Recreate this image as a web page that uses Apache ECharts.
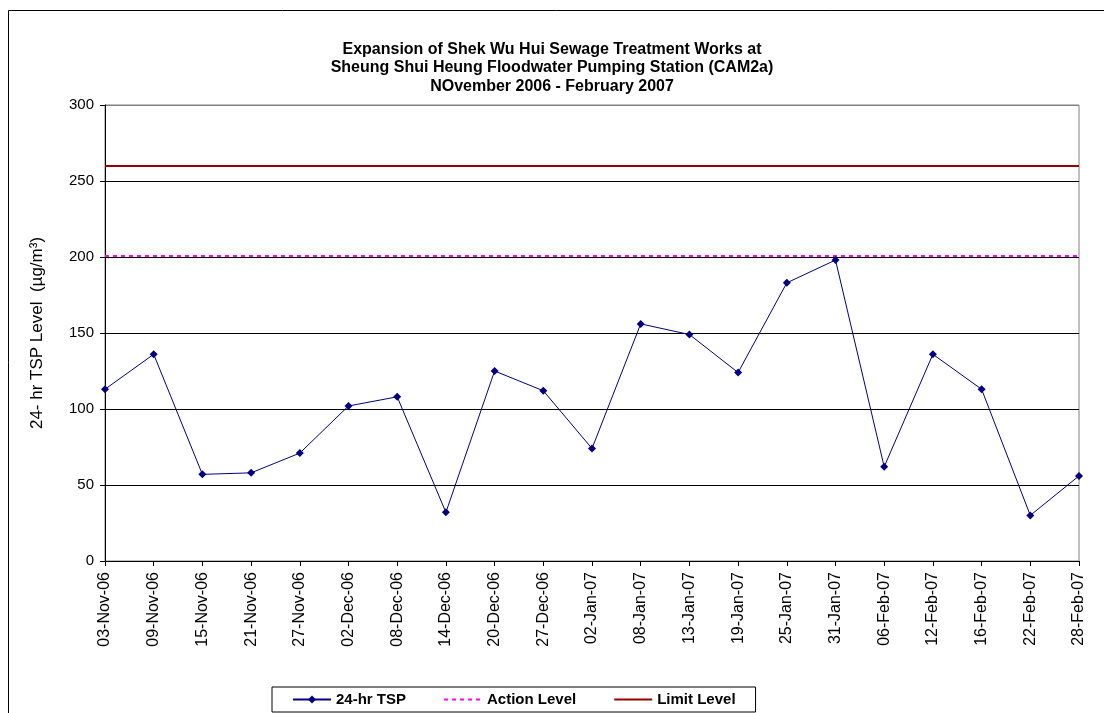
<!DOCTYPE html>
<html>
<head>
<meta charset="utf-8">
<script src="https://cdn.jsdelivr.net/npm/echarts@6/dist/echarts.min.js"></script>
<style>html,body{margin:0;padding:0;background:#fff}#c{width:1104px;height:713px}</style>
</head>
<body>
<div id="c"></div>
<script>
const categories = ['03-Nov-06','09-Nov-06','15-Nov-06','21-Nov-06','27-Nov-06','02-Dec-06','08-Dec-06','14-Dec-06','20-Dec-06','27-Dec-06','02-Jan-07','08-Jan-07','13-Jan-07','19-Jan-07','25-Jan-07','31-Jan-07','06-Feb-07','12-Feb-07','16-Feb-07','22-Feb-07','28-Feb-07'];
const tspValues = [113,136,57,58,71,102,108,32,125,112,74,156,149,124,183,198,62,136,113,30,56];
const actionLevel = 201;
const limitLevel = 260;
const titleLines = ['Expansion of Shek Wu Hui Sewage Treatment Works at','Sheung Shui Heung Floodwater Pumping Station (CAM2a)','NOvember 2006 - February 2007'];
const yTicks = {min: 0, max: 300, interval: 50};

const font = 'Arial, "Liberation Sans", sans-serif';
const chart = echarts.init(document.getElementById('c'), null, {renderer: 'canvas'});
chart.setOption({
  backgroundColor: '#fff',
  animation: false,
  graphic: [{
    type: 'rect', silent: true, z: -1,
    shape: {x: 8.5, y: 10.5, width: 1200, height: 800},
    style: {fill: 'none', stroke: '#000', lineWidth: 1}
  }],
  title: {
    text: titleLines.join('\n'),
    left: 'center',
    top: 35,
    textStyle: {fontFamily: font, fontSize: 16, fontWeight: 'bold', color: '#000', lineHeight: 18.5}
  },
  legend: {
    left: 272, top: 687,
    padding: [5, 20, 5, 20],
    borderColor: '#000', borderWidth: 1,
    itemWidth: 38, itemHeight: 10, itemGap: 37,
    textStyle: {fontFamily: font, fontSize: 15, fontWeight: 'bold', color: '#000'},
    data: [
      {name: '24-hr TSP'},
      {name: 'Action Level', itemStyle: {opacity: 0}},
      {name: 'Limit Level', itemStyle: {opacity: 0}}
    ]
  },
  grid: {left: 105, right: 25, top: 105, bottom: 152, show: true, borderColor: '#808080', borderWidth: 1, backgroundColor: 'transparent'},
  xAxis: {
    type: 'category',
    data: categories,
    boundaryGap: false,
    axisLine: {lineStyle: {color: '#000', width: 1}},
    axisTick: {show: true, length: 5, lineStyle: {color: '#000'}, interval: 0},
    axisLabel: {rotate: 90, interval: 0, margin: 11, fontFamily: font, fontSize: 16, color: '#000'},
    splitLine: {show: false}
  },
  yAxis: {
    type: 'value',
    min: yTicks.min, max: yTicks.max, interval: yTicks.interval,
    name: '24- hr TSP Level  (\u00b5g/m\u00b3)',
    nameLocation: 'middle', nameGap: 59, nameRotate: 90,
    nameTextStyle: {fontFamily: font, fontSize: 17, color: '#000'},
    axisLine: {show: true, lineStyle: {color: '#000', width: 1}},
    axisTick: {show: true, length: 5, lineStyle: {color: '#000'}},
    axisLabel: {margin: 11, fontFamily: font, fontSize: 15, color: '#000'},
    splitLine: {show: true, lineStyle: {color: ['#000','#000','#000','#000','#000','#000','#808080'], width: 1}}
  },
  series: [
    {
      name: '24-hr TSP', type: 'line', data: tspValues,
      symbol: 'diamond', symbolSize: 8, showSymbol: true,
      lineStyle: {color: '#000080', width: 1},
      itemStyle: {color: '#000080'},
      z: 5
    },
    {
      name: 'Action Level', type: 'line', data: [],
      symbol: 'none',
      lineStyle: {color: '#ff00ff', width: 2, type: [4, 4]},
      itemStyle: {color: '#ff00ff'},
      markLine: {
        silent: true, symbol: ['none','none'], label: {show: false},
        lineStyle: {color: '#ff00ff', width: 2, type: [4, 4]},
        data: [{yAxis: actionLevel}]
      }
    },
    {
      name: 'Limit Level', type: 'line', data: [],
      symbol: 'none',
      lineStyle: {color: '#990000', width: 2},
      itemStyle: {color: '#990000'},
      markLine: {
        silent: true, symbol: ['none','none'], label: {show: false},
        lineStyle: {color: '#990000', width: 2, type: 'solid'},
        data: [{yAxis: limitLevel}]
      }
    }
  ]
});
</script>
</body>
</html>
